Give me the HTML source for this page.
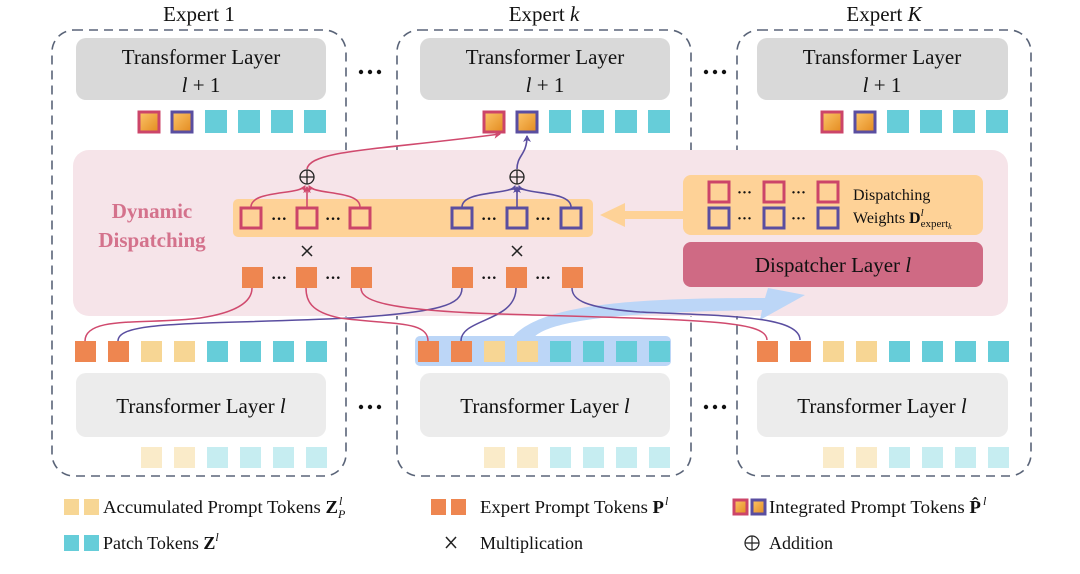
<!DOCTYPE html>
<html><head><meta charset="utf-8"><style>
html,body{margin:0;padding:0;background:#fff;}
svg{display:block;}
text{font-family:"Liberation Serif",serif;fill:#111;}
</style></head><body>
<svg width="1080" height="574" viewBox="0 0 1080 574" xmlns="http://www.w3.org/2000/svg">
<defs>
<linearGradient id="g" x1="0" y1="0" x2="1" y2="1"><stop offset="0" stop-color="#fcc56a"/><stop offset="1" stop-color="#e38a1e"/></linearGradient>
<marker id="ar" markerWidth="8" markerHeight="8" refX="6" refY="4" orient="auto" markerUnits="userSpaceOnUse"><path d="M0,0 L7,4 L0,8 L2,4z" fill="#d04a6e"/></marker>
<marker id="ab" markerWidth="8" markerHeight="8" refX="6" refY="4" orient="auto" markerUnits="userSpaceOnUse"><path d="M0,0 L7,4 L0,8 L2,4z" fill="#5a4ea0"/></marker>
</defs>
<text x="199" y="21" font-size="21" text-anchor="middle">Expert 1</text>
<text x="544" y="21" font-size="21" text-anchor="middle">Expert <tspan font-style="italic">k</tspan></text>
<text x="884" y="21" font-size="21" text-anchor="middle">Expert <tspan font-style="italic">K</tspan></text>
<g fill="none" stroke="#5a6478" stroke-width="1.6" stroke-dasharray="9,6">
<rect x="52" y="30" width="294" height="446" rx="22"/>
<rect x="397" y="30" width="294" height="446" rx="22"/>
<rect x="737" y="30" width="294" height="446" rx="22"/>
</g>
<g fill="#111"><circle cx="361" cy="72" r="2.2"/><circle cx="370" cy="72" r="2.2"/><circle cx="379" cy="72" r="2.2"/>
<circle cx="706" cy="72" r="2.2"/><circle cx="715" cy="72" r="2.2"/><circle cx="724" cy="72" r="2.2"/>
<circle cx="361" cy="407" r="2.2"/><circle cx="370" cy="407" r="2.2"/><circle cx="379" cy="407" r="2.2"/>
<circle cx="706" cy="407" r="2.2"/><circle cx="715" cy="407" r="2.2"/><circle cx="724" cy="407" r="2.2"/></g>
<g fill="#d9d9d9"><rect x="76" y="38" width="250" height="62" rx="10"/><rect x="420" y="38" width="250" height="62" rx="10"/><rect x="757" y="38" width="251" height="62" rx="10"/></g>
<g font-size="21" text-anchor="middle">
<text x="201" y="64">Transformer Layer</text><text x="201" y="92"><tspan font-style="italic">l</tspan> + 1</text>
<text x="545" y="64">Transformer Layer</text><text x="545" y="92"><tspan font-style="italic">l</tspan> + 1</text>
<text x="882" y="64">Transformer Layer</text><text x="882" y="92"><tspan font-style="italic">l</tspan> + 1</text>
</g>
<g stroke-width="3" fill="url(#g)">
<rect x="139" y="112" width="20" height="20" stroke="#cc4569"/><rect x="172" y="112" width="20" height="20" stroke="#5a4ea0"/>
<rect x="484" y="112" width="20" height="20" stroke="#cc4569"/><rect x="517" y="112" width="20" height="20" stroke="#5a4ea0"/>
<rect x="822" y="112" width="20" height="20" stroke="#cc4569"/><rect x="855" y="112" width="20" height="20" stroke="#5a4ea0"/>
</g>
<g fill="#66cdd9">
<rect x="205" y="110" width="22" height="23"/><rect x="238" y="110" width="22" height="23"/><rect x="271" y="110" width="22" height="23"/><rect x="304" y="110" width="22" height="23"/>
<rect x="549" y="110" width="22" height="23"/><rect x="582" y="110" width="22" height="23"/><rect x="615" y="110" width="22" height="23"/><rect x="648" y="110" width="22" height="23"/>
<rect x="887" y="110" width="22" height="23"/><rect x="920" y="110" width="22" height="23"/><rect x="953" y="110" width="22" height="23"/><rect x="986" y="110" width="22" height="23"/>
</g>
<rect x="73" y="150" width="935" height="166" rx="16" fill="#f6e4e9"/>
<text x="152" y="218" font-size="21" font-weight="bold" text-anchor="middle" style="fill:#d4728c">Dynamic</text>
<text x="152" y="247" font-size="21" font-weight="bold" text-anchor="middle" style="fill:#d4728c">Dispatching</text>
<rect x="233" y="199" width="360" height="38" rx="5" fill="#fed297"/>
<g fill="none" stroke-width="3">
<rect x="241" y="208" width="20" height="20" stroke="#cc4569"/><rect x="297" y="208" width="20" height="20" stroke="#cc4569"/><rect x="350" y="208" width="20" height="20" stroke="#cc4569"/>
<rect x="452" y="208" width="20" height="20" stroke="#5a4ea0"/><rect x="507" y="208" width="20" height="20" stroke="#5a4ea0"/><rect x="561" y="208" width="20" height="20" stroke="#5a4ea0"/>
</g>
<g font-size="16" font-weight="bold"><text x="271" y="224">···</text><text x="325" y="224">···</text><text x="481" y="224">···</text><text x="535" y="224">···</text></g>
<g fill="none" stroke="#222" stroke-width="1.3"><circle cx="307" cy="177" r="7"/><path d="M300,177h14M307,170v14"/><circle cx="517" cy="177" r="7"/><path d="M510,177h14M517,170v14"/></g>
<g fill="none" stroke-width="1.6">
<path d="M251,207 C251,190 300,195 305,186" stroke="#d04a6e" marker-end="url(#ar)"/>
<path d="M307,207 L307,187" stroke="#d04a6e" marker-end="url(#ar)"/>
<path d="M360,207 C360,190 314,195 309,186" stroke="#d04a6e" marker-end="url(#ar)"/>
<path d="M462,207 C462,190 512,195 515,186" stroke="#5a4ea0" marker-end="url(#ab)"/>
<path d="M517,207 L517,187" stroke="#5a4ea0" marker-end="url(#ab)"/>
<path d="M571,207 C571,190 522,195 519,186" stroke="#5a4ea0" marker-end="url(#ab)"/>
<path d="M307,169 C310,150 380,150 500,134" stroke="#d04a6e" marker-end="url(#ar)"/>
<path d="M517,169 C517,155 527,155 527,136" stroke="#5a4ea0" marker-end="url(#ab)"/>
</g>
<g stroke="#222" stroke-width="1.5"><path d="M302,246l10,10M312,246l-10,10M512,246l10,10M522,246l-10,10"/></g>
<g fill="#ee8650">
<rect x="242" y="267" width="21" height="21"/><rect x="296" y="267" width="21" height="21"/><rect x="351" y="267" width="21" height="21"/>
<rect x="452" y="267" width="21" height="21"/><rect x="506" y="267" width="21" height="21"/><rect x="562" y="267" width="21" height="21"/>
</g>
<g font-size="16" font-weight="bold"><text x="271" y="283">···</text><text x="325" y="283">···</text><text x="481" y="283">···</text><text x="535" y="283">···</text></g>
<rect x="683" y="175" width="300" height="60" rx="8" fill="#fed297"/>
<path d="M683,211 L625,211 L625,203 L600,215 L625,227 L625,219 L683,219z" fill="#fed297"/>
<g fill="none" stroke-width="3">
<rect x="709" y="182" width="20" height="20" stroke="#cc4569"/><rect x="764" y="182" width="20" height="20" stroke="#cc4569"/><rect x="818" y="182" width="20" height="20" stroke="#cc4569"/>
<rect x="709" y="208" width="20" height="20" stroke="#5a4ea0"/><rect x="764" y="208" width="20" height="20" stroke="#5a4ea0"/><rect x="818" y="208" width="20" height="20" stroke="#5a4ea0"/>
</g>
<g font-size="15" font-weight="bold"><text x="737" y="197">···</text><text x="791" y="197">···</text><text x="737" y="223">···</text><text x="791" y="223">···</text></g>
<text x="853" y="200" font-size="16">Dispatching</text>
<text x="853" y="223" font-size="16">Weights <tspan font-weight="bold">D</tspan><tspan font-size="11" font-style="italic" dy="-7">l</tspan><tspan font-size="11" dx="-3" dy="11">expert</tspan><tspan font-size="8" font-style="italic" dy="2">k</tspan></text>
<rect x="683" y="242" width="300" height="45" rx="8" fill="#cf6a84"/>
<text x="833" y="272" font-size="21" text-anchor="middle">Dispatcher Layer <tspan font-style="italic">l</tspan></text>
<rect x="415" y="336" width="256" height="30" rx="5" fill="#bcd6f7"/>
<path d="M532,340 C545,318 640,312 762,310 L760,320 L805,295 L768,288 L765,298 C640,298 540,303 512,338z" fill="#bcd6f7"/>
<g fill="#ee8650"><rect x="75" y="341" width="21" height="21"/><rect x="108" y="341" width="21" height="21"/><rect x="418" y="341" width="21" height="21"/><rect x="451" y="341" width="21" height="21"/><rect x="757" y="341" width="21" height="21"/><rect x="790" y="341" width="21" height="21"/></g>
<g fill="#f7d694"><rect x="141" y="341" width="21" height="21"/><rect x="174" y="341" width="21" height="21"/><rect x="484" y="341" width="21" height="21"/><rect x="517" y="341" width="21" height="21"/><rect x="823" y="341" width="21" height="21"/><rect x="856" y="341" width="21" height="21"/></g>
<g fill="#66cdd9"><rect x="207" y="341" width="21" height="21"/><rect x="240" y="341" width="21" height="21"/><rect x="273" y="341" width="21" height="21"/><rect x="306" y="341" width="21" height="21"/>
<rect x="550" y="341" width="21" height="21"/><rect x="583" y="341" width="21" height="21"/><rect x="616" y="341" width="21" height="21"/><rect x="649" y="341" width="21" height="21"/>
<rect x="889" y="341" width="21" height="21"/><rect x="922" y="341" width="21" height="21"/><rect x="955" y="341" width="21" height="21"/><rect x="988" y="341" width="21" height="21"/></g>
<g fill="none" stroke-width="1.5">
<path d="M85,341 C85,315 150,325 200,318 C240,312 252,300 252,288" stroke="#d04a6e"/>
<path d="M118,341 C118,320 200,325 350,318 C440,312 462,305 462,288" stroke="#5a4ea0"/>
<path d="M428,341 C428,320 390,325 340,318 C310,312 306,300 306,288" stroke="#d04a6e"/>
<path d="M461,341 C461,318 516,322 516,288" stroke="#5a4ea0"/>
<path d="M767,340 C767,320 700,320 500,314 C380,310 361,300 361,288" stroke="#d04a6e"/>
<path d="M800,340 C800,315 720,316 640,312 C585,308 572,300 572,288" stroke="#5a4ea0"/>
</g>
<g fill="#ececec"><rect x="76" y="373" width="250" height="64" rx="10"/><rect x="420" y="373" width="250" height="64" rx="10"/><rect x="757" y="373" width="251" height="64" rx="10"/></g>
<g font-size="21" text-anchor="middle"><text x="201" y="413">Transformer Layer <tspan font-style="italic">l</tspan></text><text x="545" y="413">Transformer Layer <tspan font-style="italic">l</tspan></text><text x="882" y="413">Transformer Layer <tspan font-style="italic">l</tspan></text></g>
<g fill="#faebc9"><rect x="141" y="447" width="21" height="21"/><rect x="174" y="447" width="21" height="21"/><rect x="484" y="447" width="21" height="21"/><rect x="517" y="447" width="21" height="21"/><rect x="823" y="447" width="21" height="21"/><rect x="856" y="447" width="21" height="21"/></g>
<g fill="#c6edf1"><rect x="207" y="447" width="21" height="21"/><rect x="240" y="447" width="21" height="21"/><rect x="273" y="447" width="21" height="21"/><rect x="306" y="447" width="21" height="21"/>
<rect x="550" y="447" width="21" height="21"/><rect x="583" y="447" width="21" height="21"/><rect x="616" y="447" width="21" height="21"/><rect x="649" y="447" width="21" height="21"/>
<rect x="889" y="447" width="21" height="21"/><rect x="922" y="447" width="21" height="21"/><rect x="955" y="447" width="21" height="21"/><rect x="988" y="447" width="21" height="21"/></g>
<g fill="#f7d694"><rect x="64" y="499" width="15" height="16"/><rect x="84" y="499" width="15" height="16"/></g>
<g fill="#66cdd9"><rect x="64" y="535" width="15" height="16"/><rect x="84" y="535" width="15" height="16"/></g>
<g fill="#ee8650"><rect x="431" y="499" width="15" height="16"/><rect x="451" y="499" width="15" height="16"/></g>
<rect x="734" y="500" width="13" height="14" fill="url(#g)" stroke="#cc4569" stroke-width="3"/><rect x="752" y="500" width="13" height="14" fill="url(#g)" stroke="#5a4ea0" stroke-width="3"/>
<g font-size="18">
<text x="103" y="513" textLength="235" lengthAdjust="spacingAndGlyphs">Accumulated Prompt Tokens <tspan font-weight="bold">Z</tspan></text><text x="339" y="505" font-size="12" font-style="italic">l</text><text x="338" y="518" font-size="12" font-style="italic">P</text>
<text x="103" y="549">Patch Tokens <tspan font-weight="bold">Z</tspan><tspan font-size="12" font-style="italic" dy="-8">l</tspan></text>
<text x="480" y="513" textLength="184" lengthAdjust="spacingAndGlyphs">Expert Prompt Tokens <tspan font-weight="bold">P</tspan></text><text x="665" y="505" font-size="12" font-style="italic">l</text>
<g stroke="#222" stroke-width="1.5"><path d="M446,537l10,11M456,537l-10,11"/></g>
<text x="480" y="549">Multiplication</text>
<text x="769" y="513" textLength="212" lengthAdjust="spacingAndGlyphs">Integrated Prompt Tokens <tspan font-weight="bold">P̂</tspan></text><text x="983" y="505" font-size="12" font-style="italic">l</text>
<g fill="none" stroke="#222" stroke-width="1.2"><circle cx="752" cy="543" r="7"/><path d="M745,543h14M752,536v14"/></g>
<text x="769" y="549">Addition</text>
</g>
</svg>
</body></html>
